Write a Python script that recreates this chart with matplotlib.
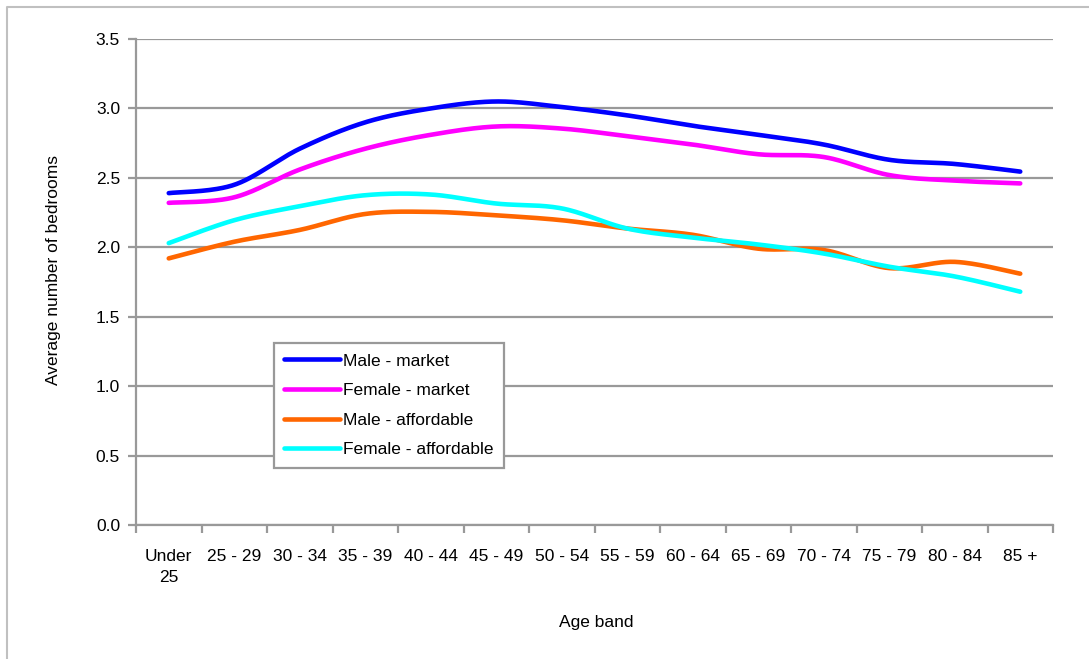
import numpy as np
import matplotlib
matplotlib.use("Agg")
import matplotlib.pyplot as plt
from matplotlib.lines import Line2D

plt.rcParams['font.family'] = ['Liberation Sans', 'DejaVu Sans']

# Data
age_bands = ["Under\n25", "25 - 29", "30 - 34", "35 - 39", "40 - 44", "45 - 49",
             "50 - 54", "55 - 59", "60 - 64", "65 - 69", "70 - 74", "75 - 79",
             "80 - 84", "85 +"]
male_market = [2.39, 2.45, 2.71, 2.90, 3.00, 3.05, 3.01, 2.95, 2.875, 2.81,
               2.74, 2.63, 2.60, 2.545]
female_market = [2.32, 2.36, 2.56, 2.71, 2.81, 2.87, 2.855, 2.80, 2.74, 2.67,
                 2.65, 2.52, 2.48, 2.46]
male_affordable = [1.92, 2.04, 2.125, 2.24, 2.255, 2.23, 2.195, 2.135, 2.09,
                   1.99, 1.98, 1.85, 1.895, 1.81]
female_affordable = [2.03, 2.195, 2.296, 2.375, 2.38, 2.315, 2.28, 2.135, 2.07,
                     2.02, 1.955, 1.86, 1.79, 1.68]

series = [
    ("Male - market", male_market, "#0000ff"),
    ("Female - market", female_market, "#ff00ff"),
    ("Male - affordable", male_affordable, "#ff6600"),
    ("Female - affordable", female_affordable, "#00ffff"),
]

GRID = "#999999"
FS = 12.5


def smooth(x, y, n=30):
    """Excel-style smoothed line: cubic Bezier through every point."""
    x = np.asarray(x, float)
    y = np.asarray(y, float)
    px = np.concatenate([[x[0]], x, [x[-1]]])
    py = np.concatenate([[y[0]], y, [y[-1]]])
    xs, ys = [], []
    t = np.linspace(0, 1, n)
    for i in range(len(x) - 1):
        p0 = np.array([px[i + 1], py[i + 1]])
        p3 = np.array([px[i + 2], py[i + 2]])
        c1 = p0 + (p3 - np.array([px[i], py[i]])) / 6
        c2 = p3 - (np.array([px[i + 3], py[i + 3]]) - p0) / 6
        b = ((1 - t) ** 3)[:, None] * p0 + (3 * (1 - t) ** 2 * t)[:, None] * c1 \
            + (3 * (1 - t) * t ** 2)[:, None] * c2 + (t ** 3)[:, None] * p3
        xs.append(b[:, 0])
        ys.append(b[:, 1])
    return np.concatenate(xs), np.concatenate(ys)


W, H = 1089, 659
fig = plt.figure(figsize=(W / 100, H / 100), dpi=100)
ax = fig.add_axes([136 / W, 1 - 525 / H, 917 / W, 486 / H])

# outer chart border (only left and top edges are inside the picture)
fig.add_artist(Line2D([7 / W, 7 / W, 1], [0, 1 - 7 / H, 1 - 7 / H],
                      transform=fig.transFigure, color="#c0c0c0", linewidth=1.5))

xpos = np.arange(len(age_bands))
for label, vals, color in series:
    sx, sy = smooth(xpos, vals)
    ax.plot(sx, sy, color=color, linewidth=3.3, label=label,
            solid_capstyle="round", zorder=3)

ax.set_xlim(-0.5, len(age_bands) - 0.5)
ax.set_ylim(0, 3.5)
yt = np.arange(0, 3.51, 0.5)
ax.set_yticks(yt)
ax.set_yticklabels([f"{v:.1f}" for v in yt])
ax.set_xticks(xpos)
ax.set_xticklabels(age_bands, linespacing=1.55)
ax.set_xticks(np.arange(-0.5, len(age_bands)), minor=True)

ax.grid(axis="y", color=GRID, linewidth=1.6)
ax.set_axisbelow(True)
for s in ["top", "right"]:
    ax.spines[s].set_visible(False)
for s in ["left", "bottom"]:
    ax.spines[s].set_color(GRID)
    ax.spines[s].set_linewidth(1.6)

ax.tick_params(axis="y", direction="out", length=5.5, width=1.6, color=GRID,
               labelsize=FS, pad=6)
ax.tick_params(axis="x", which="major", length=0, labelsize=FS, pad=17)
ax.tick_params(axis="x", which="minor", direction="out", length=5.5, width=1.6,
               color=GRID)

fig.text(53.5 / W, 1 - 270 / H, "Average number of bedrooms", rotation=90,
         ha="center", va="center", fontsize=FS)
fig.text(596 / W, 1 - 623 / H, "Age band", ha="center", va="center",
         fontsize=FS)

leg = ax.legend(loc="upper left", bbox_to_anchor=(0.1505, 0.3745),
                borderaxespad=0, fancybox=False, framealpha=1,
                edgecolor=GRID, fontsize=FS, handlelength=3.2,
                handletextpad=0.2, labelspacing=0.83, borderpad=0.6)
leg.get_frame().set_linewidth(1.6)

fig.savefig("out.png", dpi=100)
